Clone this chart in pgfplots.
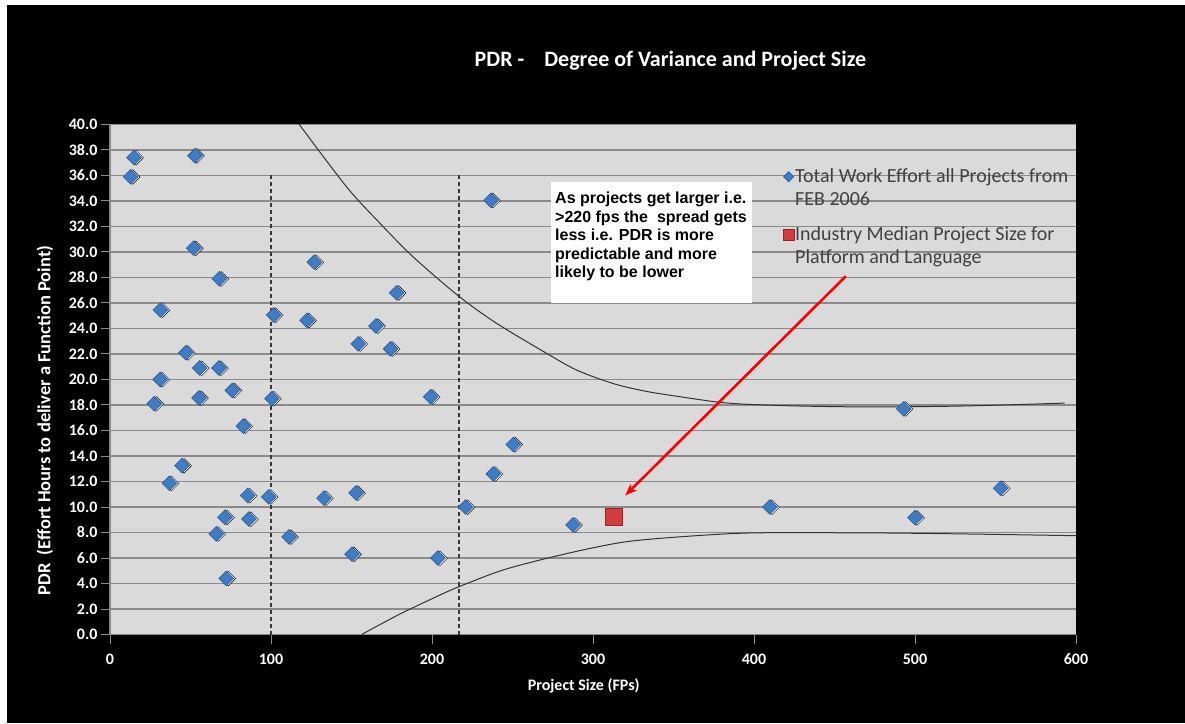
\documentclass[border=0pt]{standalone}
\usepackage{pgfplots}
\pgfplotsset{compat=1.18}
\usepackage{pgfplotstable}
\usepackage{fontspec}
\setmainfont{Carlito}
\newfontfamily\arialfont{Liberation Sans}
\usetikzlibrary{arrows.meta}
\definecolor{plotbg}{HTML}{DADADA}
\definecolor{gridgray}{HTML}{8A8A8A}
\definecolor{diamondblue}{HTML}{3F7CC4}
\definecolor{diamondedge}{HTML}{2A5A94}
\definecolor{sqred}{HTML}{D23C3C}
\definecolor{sqedge}{HTML}{9E2020}
\definecolor{legendtext}{HTML}{404040}
\definecolor{curvecol}{HTML}{333333}
\definecolor{shadowcol}{HTML}{F2F2F2}

\pgfplotstableread{
x y
14.9 37.4
12.8 35.9
52.8 37.55
236.6 34.05
52.0 30.3
126.9 29.2
67.9 27.9
178.0 26.8
31.3 25.45
101.7 25.06
122.4 24.64
165.2 24.2
154.2 22.8
174.3 22.4
47.2 22.1
55.7 20.9
67.7 20.9
31.2 20.0
27.5 18.1
55.3 18.55
76.0 19.15
100.6 18.5
199.2 18.65
82.8 16.35
44.7 13.24
36.9 11.86
85.5 10.9
98.6 10.8
132.9 10.7
152.8 11.1
238.1 12.6
220.9 10.0
71.4 9.2
86.3 9.06
66.0 7.9
111.2 7.65
150.3 6.3
203.7 6.0
72.2 4.4
250.5 14.9
287.6 8.6
409.9 10.0
493.0 17.7
553.2 11.47
500.0 9.16
}\projects

\pgfplotstableread{
x y
313.2 9.2
}\median

\begin{document}
\begin{tikzpicture}[x=1pt,y=1pt]
\fill[white] (0pt,0pt) rectangle (1185pt,723pt);
\fill[black] (7pt,0pt) rectangle (1185pt,718pt);
\begin{axis}[
  at={(110pt,88.5pt)}, anchor=south west,
  scale only axis, width=966pt, height=510pt,
  xmin=0, xmax=600, ymin=0, ymax=40,
  xtick={0,100,...,600}, ytick={0,2,...,40},
  axis lines=left, axis line style={-, gridgray, line width=1.2pt},
  ymajorgrids, grid style={gridgray, line width=1.2pt},
  tick align=outside, major tick length=9pt,
  tick style={gridgray, line width=1pt},
  axis background/.style={fill=plotbg},
  /pgf/number format/assume math mode=true,
  tick label style={text=white, font=\fontsize{16}{19}\selectfont\bfseries},
  yticklabel style={/pgf/number format/fixed, /pgf/number format/fixed zerofill, /pgf/number format/precision=1},
  xticklabel style={yshift=-7pt, /pgf/number format/fixed, /pgf/number format/precision=0},
  legend cell align=left,
  legend style={at={(axis cs:418,36.6)}, anchor=north west, draw=none, fill=none,
    font=\fontsize{20}{23}\selectfont, text=legendtext,
    nodes={align=left, inner sep=1pt}, row sep=17.5pt, inner sep=0pt},
]
% trend boundary curves
\addplot[smooth, curvecol, line width=1pt, forget plot] coordinates {
 (117,40.1) (147,35.1) (167.7,32.25) (188.4,29.6) (217,26.5) (240.2,24.4) (271.2,22.05)
 (290,20.73) (312.6,19.68) (333,19.07) (354,18.65) (376.8,18.24) (395,18.06) (428.6,17.92)
 (470,17.85) (520,17.9) (560,18.02) (593,18.15)};
\addplot[smooth, curvecol, line width=1pt, forget plot] coordinates {
 (156.3,0) (180,1.6) (205,3.1) (216.8,3.75) (242.2,4.98) (267,5.84) (300,6.8) (329,7.4)
 (391,7.94) (453,7.98) (499,7.94) (550,7.85) (600,7.75)};
% dashed separators
\addplot[gridgray!40!black, line width=1.2pt, dash pattern=on 4pt off 3pt, forget plot] coordinates {(100,0) (100,36.2)};
\addplot[gridgray!40!black, line width=1.2pt, dash pattern=on 4pt off 3pt, forget plot] coordinates {(216.8,0) (216.8,36.2)};
% annotation box
\fill[white] (axis cs:274,35.47) rectangle (axis cs:398.6,25.98);
\node[anchor=north west, inner sep=0pt, align=left, font=\arialfont\bfseries\fontsize{16}{18.5}\selectfont]
  at (axis cs:276.4,34.7) {As projects get larger i.e.\\>220 fps the\ \ spread gets\\less i.e. PDR is more\\predictable and more\\likely to be lower};
% arrow
\draw[red, line width=2.6pt, -{Stealth[length=12pt, width=9pt]}] (axis cs:457,28.1) -- (axis cs:320,10.9);
% marker shadows
\addplot[only marks, mark=square*, mark size=5.2pt, forget plot,
  mark options={rotate=45, xshift=1.3pt, yshift=-1.6pt, fill=shadowcol, draw=none}]
  table[x=x, y=y] {\projects};
% data
\addplot[only marks, mark=square*, mark size=5.2pt,
  mark options={rotate=45, fill=diamondblue, draw=diamondedge, line width=0.6pt},
  legend image post style={mark size=3.6pt, yshift=11.5pt}]
  table[x=x, y=y] {\projects};
\addlegendentry{Total Work Effort all Projects from\\FEB 2006}
\addplot[only marks, mark=square*, mark size=8.5pt,
  mark options={fill=sqred, draw=sqedge, line width=0.6pt},
  legend image post style={mark size=5.5pt, yshift=11.5pt}]
  table[x=x, y=y] {\median};
\addlegendentry{Industry Median Project Size for\\Platform and Language}
\end{axis}
% titles and labels
\node[text=white, font=\fontsize{22}{26}\selectfont\bfseries] at (670.5pt,662pt) {PDR -\hspace{15pt} Degree of Variance and Project Size};
\node[text=white, font=\fontsize{16}{19}\selectfont\bfseries] at (583.7pt,37pt) {Project Size (FPs)};
\node[text=white, rotate=90, font=\fontsize{18.5}{22}\selectfont\bfseries] at (45pt,302.5pt) {PDR\ \ (Effort Hours to deliver a Function Point)};
\end{tikzpicture}
\end{document}
